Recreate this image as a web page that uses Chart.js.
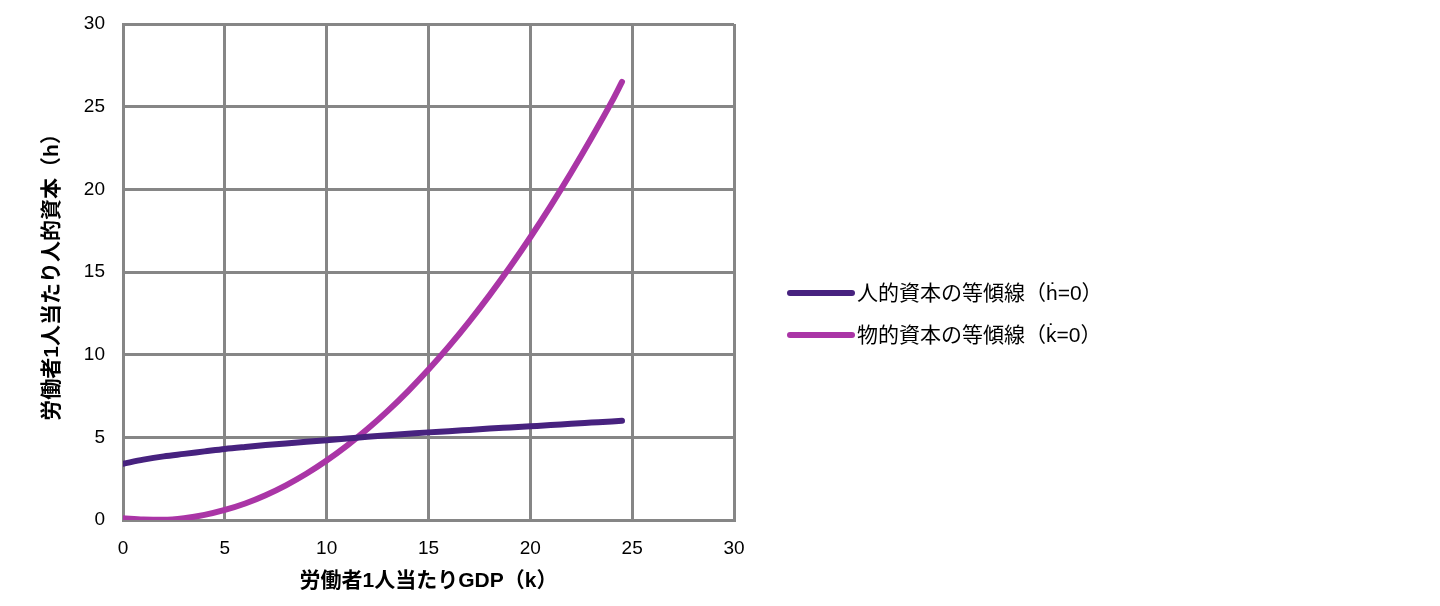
<!DOCTYPE html>
<html>
<head>
<meta charset="utf-8">
<script src="https://cdn.jsdelivr.net/npm/chart.js@4"></script>
<style>
  body { margin: 0; background: #fff; }
  #wrap { width: 1440px; height: 606px; }
</style>
</head>
<body>
<div id="wrap"><canvas id="chart"></canvas></div>
<script>
// k values (GDP per worker)
const kValues = [0, 1, 2, 3, 4, 5, 6, 7, 8, 9, 10, 11, 12, 13, 14, 15, 16, 17, 18, 19, 20, 21, 22, 23, 24, 24.5];
// h-dot = 0 locus
const humanLocus = [3.4, 3.65, 3.85, 4.0, 4.15, 4.3, 4.42, 4.53, 4.63, 4.73, 4.83, 4.93, 5.03, 5.12, 5.21, 5.3, 5.37, 5.45, 5.53, 5.6, 5.67, 5.74, 5.82, 5.89, 5.96, 6.0];
// k-dot = 0 locus
const physicalLocus = [0.1, 0.03, 0.01, 0.11, 0.31, 0.61, 1.0, 1.5, 2.1, 2.8, 3.6, 4.5, 5.5, 6.6, 7.8, 9.1, 10.5, 12.0, 13.6, 15.3, 17.1, 19.0, 21.0, 23.1, 25.3, 26.5];
const seriesNames = ["人的資本の等傾線（ḣ=0）", "物的資本の等傾線（k̇=0）"];
const tickValues = [0, 5, 10, 15, 20, 25, 30];

const fontFamily = "'Liberation Sans', 'Noto Sans CJK JP', sans-serif";
const gridColor = "#868686";

function toPoints(ys) {
    return kValues.map((k, i) => ({ x: k, y: ys[i] }));
}

// legend drawn to the right of the plot (built-in one gets squeezed)
const sideLegend = {
    id: 'sideLegend',
    afterDraw(chart) {
        const c = chart.ctx;
        const x0 = 790, lineLen = 62, rowGap = 42, yMid = 314, textX = 857;
        const n = chart.data.datasets.length;
        c.save();
        c.font = "21px " + fontFamily;
        c.textBaseline = 'middle';
        c.fillStyle = '#000';
        chart.data.datasets.forEach((ds, i) => {
            const y = yMid + (i - (n - 1) / 2) * rowGap;
            c.strokeStyle = ds.borderColor;
            c.lineWidth = 6;
            c.lineCap = 'round';
            c.beginPath();
            c.moveTo(x0, y);
            c.lineTo(x0 + lineLen, y);
            c.stroke();
            // combining dot above 'k' renders lost in the stem, place it by hand
            const parts = ds.label.split('\u0307');
            c.fillText(parts.join(''), textX, y + 1);
            if (parts.length > 1) {
                const w0 = c.measureText(parts[0]).width;
                const kw = c.measureText(parts[0].slice(-1)).width;
                c.textAlign = 'center';
                c.fillText('\u02D9', textX + w0 - kw * 0.45, y - 3);
                c.textAlign = 'left';
            }
        });
        c.restore();
    }
};

const ctx = document.getElementById("chart").getContext("2d");

new Chart(ctx, {
    type: 'scatter',
    data: {
        datasets: [{
            label: seriesNames[0],
            data: toPoints(humanLocus),
            showLine: true,
            borderColor: '#47227f',
            backgroundColor: '#47227f',
            borderWidth: 6,
            pointRadius: 0,
            borderCapStyle: 'round',
            cubicInterpolationMode: 'monotone'
        }, {
            label: seriesNames[1],
            data: toPoints(physicalLocus),
            showLine: true,
            borderColor: '#aa35a6',
            backgroundColor: '#aa35a6',
            borderWidth: 6,
            pointRadius: 0,
            borderCapStyle: 'round',
            cubicInterpolationMode: 'monotone'
        }]
    },
    plugins: [sideLegend],
    options: {
        responsive: true,
        maintainAspectRatio: false,
        animation: false,
        layout: { padding: { left: 36, right: 706, top: 24, bottom: 8 } },
        plugins: {
            legend: { display: false },
            tooltip: { enabled: false }
        },
        scales: {
            x: {
                type: 'linear',
                min: 0,
                max: 30,
                afterBuildTicks: axis => { axis.ticks = tickValues.map(v => ({ value: v })); },
                afterFit: axis => { axis.height = 78; axis.paddingLeft = 0; axis.paddingRight = 0; },
                grid: { color: gridColor, lineWidth: 3, drawTicks: false },
                border: { color: gridColor, width: 3 },
                ticks: { color: '#000', padding: 17, font: { family: fontFamily, size: 19 } },
                title: {
                    display: true,
                    text: '労働者1人当たりGDP（k）',
                    color: '#000',
                    font: { family: fontFamily, size: 21, weight: 'bold' }
                }
            },
            y: {
                min: 0,
                max: 30,
                afterBuildTicks: axis => { axis.ticks = tickValues.map(v => ({ value: v })); },
                afterFit: axis => { axis.width = 87; axis.paddingTop = 0; axis.paddingBottom = 0; },
                grid: { color: gridColor, lineWidth: 3, drawTicks: false },
                border: { color: gridColor, width: 3 },
                ticks: { color: '#000', padding: 18, font: { family: fontFamily, size: 19 } },
                title: {
                    display: true,
                    text: '労働者1人当たり人的資本（h）',
                    color: '#000',
                    font: { family: fontFamily, size: 21, weight: 'bold' }
                }
            }
        }
    }
});
</script>
</body>
</html>
